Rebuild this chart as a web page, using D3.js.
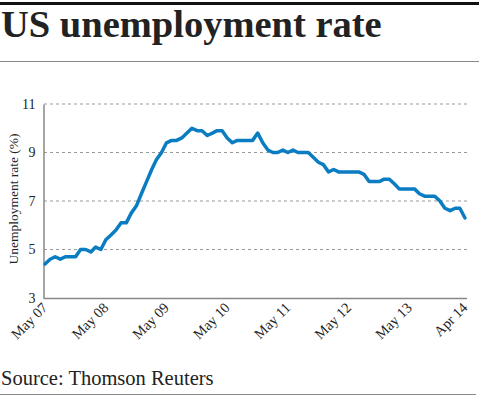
<!DOCTYPE html>
<html>
<head>
<meta charset="utf-8">
<script src="https://cdn.jsdelivr.net/npm/d3@7"></script>
<style>
  body { margin: 0; background: #fff; }
  svg { display: block; }
  text { font-family: "Liberation Serif", "DejaVu Serif", serif; fill: #222; }
</style>
</head>
<body>
<svg width="480" height="397"></svg>
<script>
// monthly US unemployment rate (%), May 2007 - Apr 2014
const rate2007 = [4.4, 4.6, 4.7, 4.6, 4.7, 4.7, 4.7, 5.0];
const rate2008 = [5.0, 4.9, 5.1, 5.0, 5.4, 5.6, 5.8, 6.1, 6.1, 6.5, 6.8, 7.3];
const rate2009 = [7.8, 8.3, 8.7, 9.0, 9.4, 9.5, 9.5, 9.6, 9.8, 10.0, 9.9, 9.9];
const rate2010 = [9.7, 9.8, 9.9, 9.9, 9.6, 9.4, 9.5, 9.5, 9.5, 9.5, 9.8, 9.4];
const rate2011 = [9.1, 9.0, 9.0, 9.1, 9.0, 9.1, 9.0, 9.0, 9.0, 8.8, 8.6, 8.5];
const rate2012 = [8.2, 8.3, 8.2, 8.2, 8.2, 8.2, 8.2, 8.1, 7.8, 7.8, 7.8, 7.9];
const rate2013 = [7.9, 7.7, 7.5, 7.5, 7.5, 7.5, 7.3, 7.2, 7.2, 7.2, 7.0, 6.7];
const rate2014 = [6.6, 6.7, 6.7, 6.3];

const tickLabels = ["May 07", "May 08", "May 09", "May 10", "May 11", "May 12", "May 13", "Apr 14"];
const yTicks = [3, 5, 7, 9, 11];

const svg = d3.select("svg");

const rates = [].concat(rate2007, rate2008, rate2009, rate2010, rate2011, rate2012, rate2013, rate2014);
const months = d3.timeMonth.range(new Date(2007, 4, 1), new Date(2014, 4, 1));
const data = months.map((m, i) => ({ date: m, value: rates[i] }));

const parseTick = d3.timeParse("%b %y");
const tickDates = tickLabels.map(parseTick);

const x = d3.scaleTime()
    .domain([months[0], months[months.length - 1]])
    .range([45, 465]);
const y = d3.scaleLinear()
    .domain([3, 11])
    .range([298, 104]);

// header rules + title
svg.append("rect").attr("x", 0).attr("y", 2).attr("width", 479).attr("height", 3).attr("fill", "#111");
svg.append("text")
    .attr("x", 1).attr("y", 37)
    .attr("font-size", 38.5).attr("font-weight", "bold")
    .text("US unemployment rate");
svg.append("line").attr("x1", 0).attr("x2", 479).attr("y1", 61.5).attr("y2", 61.5)
    .attr("stroke", "#888").attr("stroke-width", 1);

// gridlines
svg.append("g")
    .selectAll("line")
    .data(yTicks.filter(d => d > 3))
    .enter()
    .append("line")
    .attr("x1", 44).attr("x2", 467)
    .attr("y1", d => y(d)).attr("y2", d => y(d))
    .attr("stroke", "#999")
    .attr("stroke-width", 1)
    .attr("stroke-dasharray", "3,3");

// y axis
const yAxis = svg.append("g")
    .attr("transform", "translate(43.5,0)")
    .call(d3.axisLeft(y).tickValues(yTicks).tickSize(0).tickPadding(8));
yAxis.select(".domain").attr("stroke", "#888").attr("stroke-width", 1.5);
yAxis.selectAll("text").attr("font-size", 14).attr("fill", "#222")
    .attr("font-family", "Liberation Serif, serif");

// x axis
const xAxis = svg.append("g")
    .attr("transform", "translate(0,298.5)")
    .call(d3.axisBottom(x).tickValues(tickDates).tickFormat(d3.timeFormat("%b %y")).tickSize(0));
xAxis.select(".domain").attr("stroke", "#888").attr("stroke-width", 1.5)
    .attr("d", "M43.5,0H467");
xAxis.selectAll("text")
    .attr("font-size", 14.5).attr("fill", "#222")
    .attr("font-family", "Liberation Serif, serif")
    .attr("text-anchor", "end")
    .attr("dy", null)
    .attr("y", 0)
    .attr("transform", "translate(3,10) rotate(-45)");

// y label
svg.append("text")
    .attr("transform", "translate(18,199) rotate(-90)")
    .attr("text-anchor", "middle")
    .attr("font-size", 13.5)
    .text("Unemployment rate (%)");

// the line
const line = d3.line()
    .x(d => x(d.date))
    .y(d => y(d.value));
svg.append("path")
    .datum(data)
    .attr("d", line)
    .attr("fill", "none")
    .attr("stroke", "#0a7cc1")
    .attr("stroke-width", 3.5)
    .attr("stroke-linejoin", "round")
    .attr("stroke-linecap", "round");

// footer
svg.append("text")
    .attr("x", 1).attr("y", 385)
    .attr("font-size", 20.5)
    .text("Source: Thomson Reuters");
svg.append("line").attr("x1", 0).attr("x2", 476).attr("y1", 394.5).attr("y2", 394.5)
    .attr("stroke", "#888").attr("stroke-width", 1);
</script>
</body>
</html>
